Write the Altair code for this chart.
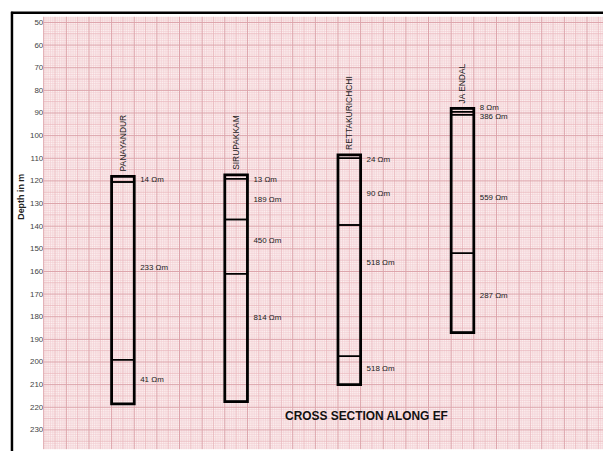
import altair as alt
import pandas as pd
import numpy as np

# ---------------- data ----------------
sites = ["PANAYANDUR", "SIRUPAKKAM", "RETTAKURICHCHI", "JA ENDAL"]
# layer boundaries (depth in m), top of first layer to bottom of last
boundaries = [
    [118.0, 120.5, 199.0, 218.5],
    [117.3, 119.0, 137.0, 161.0, 217.5],
    [108.5, 110.0, 139.5, 197.5, 210.0],
    [88.0, 89.4, 90.8, 152.0, 187.0],
]
# resistivity of each layer (ohm-m)
resistivity = [
    [14, 233, 41],
    [13, 189, 450, 814],
    [24, 90, 518, 518],
    [8, 386, 559, 287],
]
# depth at which each resistivity label is written
label_depth = [
    [119.8, 158.4, 208.0],
    [119.4, 128.6, 146.4, 180.5],
    [110.7, 126.0, 156.4, 203.2],
    [88.0, 91.8, 127.6, 171.0],
]
depth_ticks = list(range(50, 231, 10))
title_text = "CROSS SECTION ALONG EF"
axis_title = "Depth in m"

# ---------------- layout ----------------
W, H = 564, 436
Y_DOMAIN = [47.5, 238.5]
PX = H / (Y_DOMAIN[1] - Y_DOMAIN[0])
X_DOMAIN = [0, W / PX]
COL_START, COL_STEP, COL_W = 30, 50, 10
FONT = "Liberation Sans"

xs = alt.Scale(domain=X_DOMAIN, nice=False, zero=False)
ys = alt.Scale(domain=Y_DOMAIN, nice=False, zero=False, reverse=True)

yaxis = alt.Axis(values=depth_ticks, grid=False, ticks=False, domain=False,
                 labelFontSize=8, labelColor="#444", labelFont=FONT, labelPadding=1,
                 title=axis_title, titleFontSize=9, titleFontWeight="bold", titleColor="#222",
                 titleFont=FONT, titleX=-23, titleY=181, titleAngle=270,
                 titleAlign="center", titleBaseline="middle")

def Y(field):
    return alt.Y(field, scale=ys, axis=yaxis)

def X(field):
    return alt.X(field, scale=xs, axis=None)

layer_rows, col_rows = [], []
for i, name in enumerate(sites):
    x0 = COL_START + COL_STEP * i
    b = boundaries[i]
    for j, r in enumerate(resistivity[i]):
        layer_rows.append(dict(site=name, x0=x0, x1=x0 + COL_W, top=b[j], bottom=b[j + 1],
                               ly=label_depth[i][j], label=f"{r} Ωm"))
    col_rows.append(dict(site=name, x0=x0, x1=x0 + COL_W, xc=x0 + COL_W / 2, top=b[0], bottom=b[-1]))
layers = pd.DataFrame(layer_rows)
cols = pd.DataFrame(col_rows)

# graph-paper grid
vx = np.arange(0, int(X_DOMAIN[1]) + 1)
hy = np.arange(int(np.ceil(Y_DOMAIN[0])), int(Y_DOMAIN[1]) + 1)
def lvl(v):
    return "major" if v % 10 == 0 else ("mid" if v % 5 == 0 else "minor")
gv = pd.DataFrame({"g": vx, "lvl": [lvl(v) for v in vx]})
gh = pd.DataFrame({"g": hy, "lvl": [lvl(v) for v in hy]})

grid_style = {"minor": ("#f1cdd1", 0.6), "mid": ("#e8b5bb", 0.8), "major": ("#dca2a9", 1.0)}
grid_layers = []
for k, (c, w) in grid_style.items():
    grid_layers.append(
        alt.Chart(gv).transform_filter(alt.datum.lvl == k).mark_rule(color=c, strokeWidth=w)
        .encode(x=X("g:Q"))
    )
    grid_layers.append(
        alt.Chart(gh).transform_filter(alt.datum.lvl == k).mark_rule(color=c, strokeWidth=w)
        .encode(y=Y("g:Q"))
    )

layer_rects = alt.Chart(layers).mark_rect(fillOpacity=0, stroke="black", strokeWidth=1.5).encode(
    x=X("x0:Q"), x2="x1:Q", y=Y("top:Q"), y2="bottom:Q")

col_rects = alt.Chart(cols).mark_rect(fillOpacity=0, stroke="black", strokeWidth=2.8).encode(
    x=X("x0:Q"), x2="x1:Q", y=Y("top:Q"), y2="bottom:Q")

res_text = alt.Chart(layers).mark_text(align="left", baseline="middle", dx=6, fontSize=8,
                                        font=FONT, color="#222").encode(
    x=X("x1:Q"), y=Y("ly:Q"), text="label:N")

name_text = alt.Chart(cols).mark_text(angle=270, align="left", baseline="middle", dx=5,
                                       fontSize=8.5, font=FONT, color="#222").encode(
    x=X("xc:Q"), y=Y("top:Q"), text="site:N")

title_layer = alt.Chart(pd.DataFrame({"t": [title_text]})).mark_text(
    fontSize=12, fontWeight="bold", font=FONT, color="#111", align="center", baseline="middle"
).encode(x=alt.value(325.5), y=alt.value(403), text="t:N")

border = alt.Chart(pd.DataFrame({"a": [0]}))
border_left = border.mark_rule(color="black", strokeWidth=2.5).encode(
    x=alt.value(-32), y=alt.value(-5), y2=alt.value(H + 12))
border_top = border.mark_rule(color="black", strokeWidth=2.5).encode(
    x=alt.value(-33), x2=alt.value(W + 12), y=alt.value(-4))

chart = alt.layer(*grid_layers, layer_rects, col_rects, res_text, name_text,
                  title_layer, border_left, border_top).properties(
    width=W, height=H, autosize=alt.AutoSizeParams(type="none"),
    padding={"left": 36, "top": 7, "right": 0, "bottom": 0},
).configure_view(fill="#fcefef", strokeWidth=0)

chart.save("out.html", embed_options={"renderer": "svg", "actions": False})
